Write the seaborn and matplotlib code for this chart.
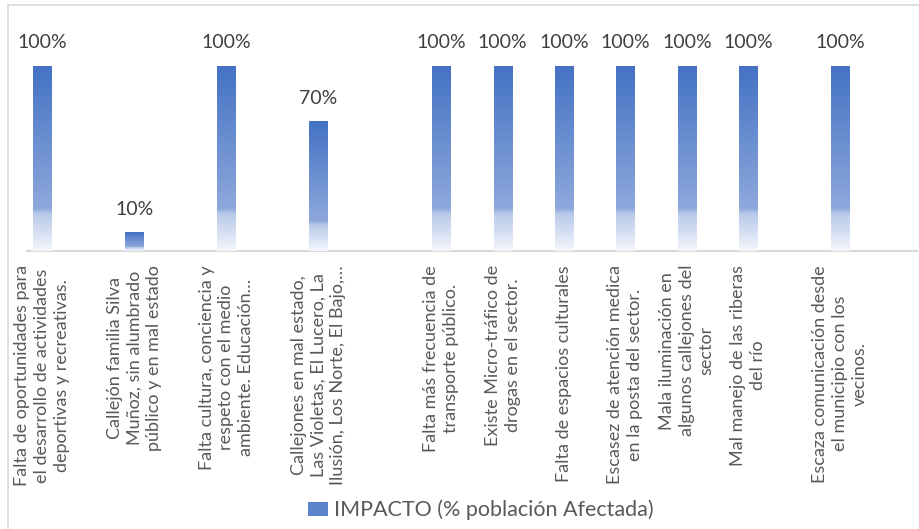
import numpy as np
import pandas as pd
import matplotlib
matplotlib.use('Agg')
import matplotlib.pyplot as plt
import seaborn as sns
from matplotlib.colors import LinearSegmentedColormap
from matplotlib.patches import Patch
from matplotlib.lines import Line2D

# categories (blank slots kept as in the source sheet)
categories = [
    "Falta de oportunidades para\nel desarrollo de actividades\ndeportivas y recreativas.",
    "", "",
    "Callejón familia Silva\nMuñoz, sin alumbrado\npúblico y en mal estado",
    "", "",
    "Falta cultura, conciencia y\nrespeto con el medio\nambiente. Educación…",
    "", "",
    "Callejones en mal estado,\nLas Violetas, El Lucero, La\nIlusión, Los Norte, El Bajo,…",
    "", "", "",
    "Falta más frecuencia de\ntransporte público.",
    "",
    "Existe Micro-tráfico de\ndrogas en el sector.",
    "",
    "Falta de espacios culturales",
    "",
    "Escasez de atención medica\nen la posta del sector.",
    "",
    "Mala iluminación en\nalgunos callejones del\nsector",
    "",
    "Mal manejo de las riberas\ndel río",
    "", "",
    "Escaza comunicación desde\nel municipio con los\nvecinos.",
    "", "",
]
impacto = [1.0, None, None, 0.1, None, None, 1.0, None, None, 0.7, None, None, None,
           1.0, None, 1.0, None, 1.0, None, 1.0, None, 1.0, None, 1.0, None, None,
           1.0, None, None]
serie = "IMPACTO (% población Afectada)"

df = pd.DataFrame({"idx": range(len(categories)), "valor": impacto})

sns.set_style("white")
plt.rcParams['font.family'] = ['Lato', 'DejaVu Sans']

fig = plt.figure(figsize=(9.2, 5.29), dpi=100)
ax = fig.add_axes([27 / 920, 1 - 251 / 529, 890 / 920, 231 / 529])

sns.barplot(data=df, x="idx", y="valor", order=list(range(len(categories))),
            width=0.59, color="#4472C4", ax=ax, errorbar=None)

# excel-like gradient fill
grad = LinearSegmentedColormap.from_list("g", [
    (0.0, "#F4F6FB"), (0.20, "#B8C9E9"), (0.23, "#8DA8DB"),
    (0.6, "#6A8ED0"), (1.0, "#4472C4")])
g = np.linspace(0, 1, 256).reshape(-1, 1)
for p in ax.patches:
    h = p.get_height()
    if not h or np.isnan(h):
        continue
    x0 = p.get_x()
    w = p.get_width()
    ax.imshow(g, cmap=grad, origin="lower", aspect="auto",
              extent=[x0, x0 + w, 0, h], zorder=3)
    p.set_facecolor("none")
    p.set_edgecolor("none")
    ax.text(x0 + w / 2, h + 0.08, f"{h:.0%}", ha="center", va="bottom",
            fontsize=14, color="#404040")

ax.set_xlim(-0.5, len(categories) - 0.5)
ax.set_ylim(0, 1.25)
ax.set_xticks(range(len(categories)))
ax.set_xticklabels(categories, rotation=90, ha="center", va="top",
                   multialignment="center", fontsize=13, color="#595959",
                   linespacing=1.3)
ax.tick_params(axis="x", length=0, pad=10)
ax.set_yticks([])
ax.set_xlabel("")
ax.set_ylabel("")
for s in ["top", "right", "left"]:
    ax.spines[s].set_visible(False)
ax.spines["bottom"].set_color("#D9D9D9")
ax.spines["bottom"].set_linewidth(1.5)

# chart border
fig.add_artist(Line2D([8 / 920, 8 / 920], [0, 1 - 5 / 529], color="#D9D9D9", lw=1.2))
fig.add_artist(Line2D([8 / 920, 1], [1 - 5 / 529, 1 - 5 / 529], color="#D9D9D9", lw=1.2))

handle = Patch(facecolor="#5B84CC", edgecolor="none")
fig.legend([handle], [serie], loc="center", bbox_to_anchor=(0.523, 0.036),
           frameon=False, fontsize=15.5, labelcolor="#595959",
           handlelength=0.9, handleheight=0.65, handletextpad=0.3)

fig.savefig("out.png", dpi=100)
